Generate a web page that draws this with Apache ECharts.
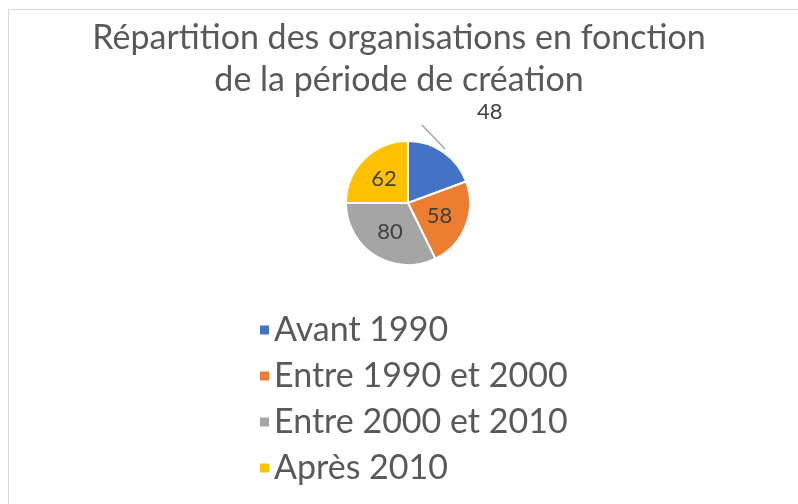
<!DOCTYPE html>
<html>
<head>
<meta charset="utf-8">
<script src="https://cdn.jsdelivr.net/npm/echarts@6/dist/echarts.min.js"></script>
<style>
  html, body { margin: 0; padding: 0; overflow: hidden; background: #fff; }
  #frame { position: absolute; left: 8px; top: 9px; width: 820px; height: 520px; border: 1px solid #d9d9d9; }
  #piechart { position: absolute; left: 0; top: 0; width: 798px; height: 504px; }
</style>
</head>
<body>
<div id="frame"></div>
<div id="piechart"></div>
<script>
var categories = ['Avant 1990', 'Entre 1990 et 2000', 'Entre 2000 et 2010', 'Après 2010'];
var values = [48, 58, 80, 62];
var colors = ['#4472C4', '#ED7D31', '#A5A5A5', '#FFC000'];

var chart = document.getElementById('piechart');
var myChart = echarts.init(chart);

var data = categories.map(function (name, i) {
    var item = { value: values[i], name: name, itemStyle: { color: colors[i] } };
    if (i === 0) {
        // first slice has its label pulled outside, like in the original
        item.label = { position: 'outside' };
        item.labelLine = { show: true, length: 8, length2: 0, lineStyle: { color: '#a6a6a6', width: 1.5 } };
    }
    return item;
});

var option = {
        animation: false,
        textStyle: { fontFamily: 'Lato' },
        title: {
            text: 'Répartition des organisations en fonction\nde la période de création',
            left: 'center',
            top: 12,
            textStyle: {
                fontFamily: 'Lato',
                fontWeight: 'normal',
                fontSize: 34,
                lineHeight: 42,
                color: '#595959'
            }
        },
        legend: {
            orient: 'vertical',
            left: 253,
            top: 308,
            itemWidth: 11,
            itemHeight: 11,
            itemGap: 12,
            icon: 'rect',
            data: categories,
            textStyle: {
                fontFamily: 'Lato',
                fontSize: 34,
                lineHeight: 34,
                color: '#595959',
                padding: [0, 0, 0, -1]
            }
        },
        series: [
            {
                name: 'organisations',
                type: 'pie',
                center: [408, 203],
                radius: 62,
                startAngle: 90,
                clockwise: true,
                itemStyle: { borderColor: '#fff', borderWidth: 2 },
                label: {
                    show: true,
                    position: 'inside',
                    formatter: '{c}',
                    fontSize: 22,
                    color: '#404040'
                },
                labelLayout: function (params) {
                    if (params.dataIndex === 0) {
                        return {
                            x: 477, y: 101, align: 'left', verticalAlign: 'top',
                            labelLinePoints: [[445, 149], [422, 125], [422, 125]]
                        };
                    }
                },
                emphasis: { disabled: true },
                data: data
            }
        ]
    };

myChart.setOption(option);
</script>
</body>
</html>
